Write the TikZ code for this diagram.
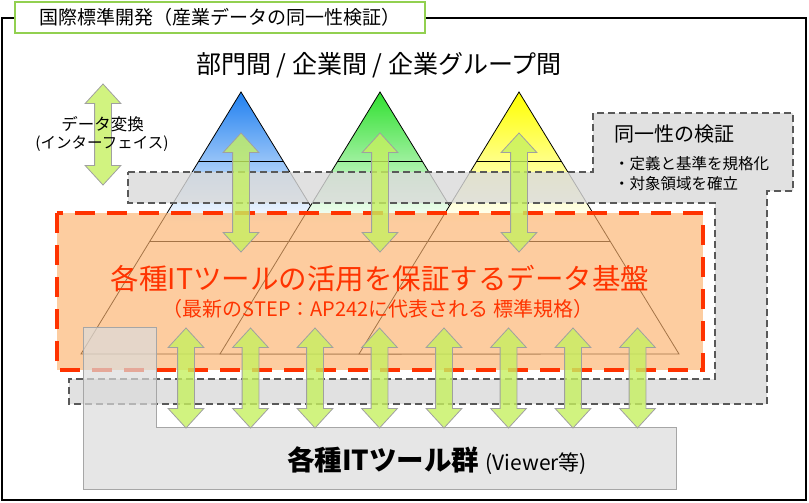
\documentclass[tikz,border=0pt]{standalone}
\usepackage{fontspec}
\setmainfont{Noto Sans CJK JP}
\usepackage{tikz}
\usetikzlibrary{shapes.arrows}
\usetikzlibrary{calc}
\definecolor{framegreen}{HTML}{92D050}
\definecolor{bandgray}{HTML}{DADADA}
\definecolor{banddash}{HTML}{595959}
\definecolor{baseorange}{HTML}{FCB26D}
\definecolor{basered}{HTML}{FF3300}
\definecolor{toolgray}{HTML}{DBDBDB}
\definecolor{toolline}{HTML}{A6A6A6}
\definecolor{arrowgreen}{HTML}{C6F060}
\definecolor{arrowline}{HTML}{A0A0A0}
\definecolor{triblue}{HTML}{2080F0}
\definecolor{trigreen}{HTML}{30E030}
\definecolor{triyellow}{HTML}{FFFF00}
\tikzstyle{frame}=[draw=black,line width=1.2pt]
\tikzstyle{titlebox}=[draw=framegreen,fill=white,line width=1.5pt,minimum width=410pt,minimum height=31pt,inner sep=0pt,font=\fontsize{19}{21}\selectfont]
\tikzstyle{triline}=[draw=black,line width=0.8pt]
\tikzstyle{band}=[draw=banddash,fill=bandgray,fill opacity=0.8,line width=2.5pt,dash pattern=on 7pt off 4pt]
\tikzstyle{basebox}=[draw=basered,fill=baseorange,fill opacity=0.65,line width=4pt,dash pattern=on 20pt off 12pt]
\tikzstyle{toolbox}=[draw=toolline,fill=toolgray,fill opacity=0.7,line width=1pt]
\tikzstyle{dblarrow}=[shape=double arrow,rotate=90,draw=arrowline,fill=arrowgreen,fill opacity=0.8,line width=0.8pt,double arrow head extend=9.5pt,double arrow tip angle=85,minimum width=35pt,inner xsep=0pt,inner ysep=8pt]
\tikzstyle{headtext}=[font=\fontsize{25}{29}\selectfont]
\tikzstyle{redtext}=[text=basered,inner sep=0pt]
\tikzstyle{smalltext}=[font=\fontsize{15.5}{18}\selectfont,inner sep=0pt]

\begin{document}
\begin{tikzpicture}[x=1pt,y=-1pt]

   \useasboundingbox (0,0) rectangle (809,503);

   \def\bw{160};
   \def\bh{262};

% Frame
   \draw[frame] (2,18) rectangle (806,500);
   \node[titlebox] (title) at (220,17.5) {国際標準開発（産業データの同一性検証）};
   \node[headtext] (levels) at (379,65) {部門間 / 企業間 / 企業グループ間};

%Triangles
    \foreach \x/\col/\name in {241/triblue/tA, 380/trigreen/tB, 519/triyellow/tC}
    {
        \coordinate (\name) at (\x,92);
        \path[top color=\col, bottom color=white, middle color=white] (\name) -- ++(-\bw,\bh) -- ++(2*\bw,0) -- cycle;
        \draw[triline] (\name) -- ++(-\bw,\bh) -- ++(2*\bw,0) -- cycle;
        \draw[triline] (\name) ++(-42,69) -- ++(84,0);
        \draw[triline] (\name) ++(-91,149) -- ++(182,0);
    }

%Band (same identity check)
   \draw[band] (128,172) -- (593,172) -- (593,113) -- (793,113) -- (793,191) -- (767,191)
      -- (767,404) -- (69,404) -- (69,379) -- (715,379) -- (715,203) -- (128,203) -- cycle;

%Data base
   \draw[basebox] (57,213) rectangle (703,370);

%Tools
   \draw[toolbox] (83,327) -- (156,327) -- (156,427) -- (676,427) -- (676,489) -- (83,489) -- cycle;

% Arrows
   %layer 1
    \foreach \pos/\name in {{(103,134.5)/legend}}
        \node[dblarrow,minimum height=101pt] (\name) at \pos {};
   %layer 2
    \foreach \pos/\name in {{(241,192.5)/upA},{(380,192.5)/upB},{(519,192.5)/upC}}
        \node[dblarrow,minimum height=119pt] (\name) at \pos {};
   %layer 3
    \foreach \i in {0,...,7}
        \node[dblarrow,minimum height=100pt] (tool\i) at (186+\i*64.5,378) {};

%Label
   \node[smalltext,font=\fontsize{16.5}{19}\selectfont] (conv) at (102.5,124) {データ変換};
   \node[smalltext] (iface) at (102,144) {(インターフェイス)};

   \node[font=\fontsize{20}{24}\selectfont,inner sep=0pt] (check) at (674,134) {同一性の検証};
   \node[smalltext,anchor=west] (item1) at (614,164) {・定義と基準を規格化};
   \node[smalltext,anchor=west] (item2) at (614,184) {・対象領域を確立};

   \node[redtext,font=\fontsize{28.5}{31}\selectfont] (base) at (380,279) {各種ITツールの活用を保証するデータ基盤};
   \node[redtext,font=\fontsize{20}{23}\selectfont] (std) at (378,309) {（最新のSTEP：AP242に代表される 標準規格）};

   \node[inner sep=0pt] (tools) at (437,461) {\fontsize{27.5}{30}\selectfont\bfseries 各種ITツール群 \fontsize{21}{24}\mdseries\selectfont(Viewer等)};

\end{tikzpicture}
\end{document}
